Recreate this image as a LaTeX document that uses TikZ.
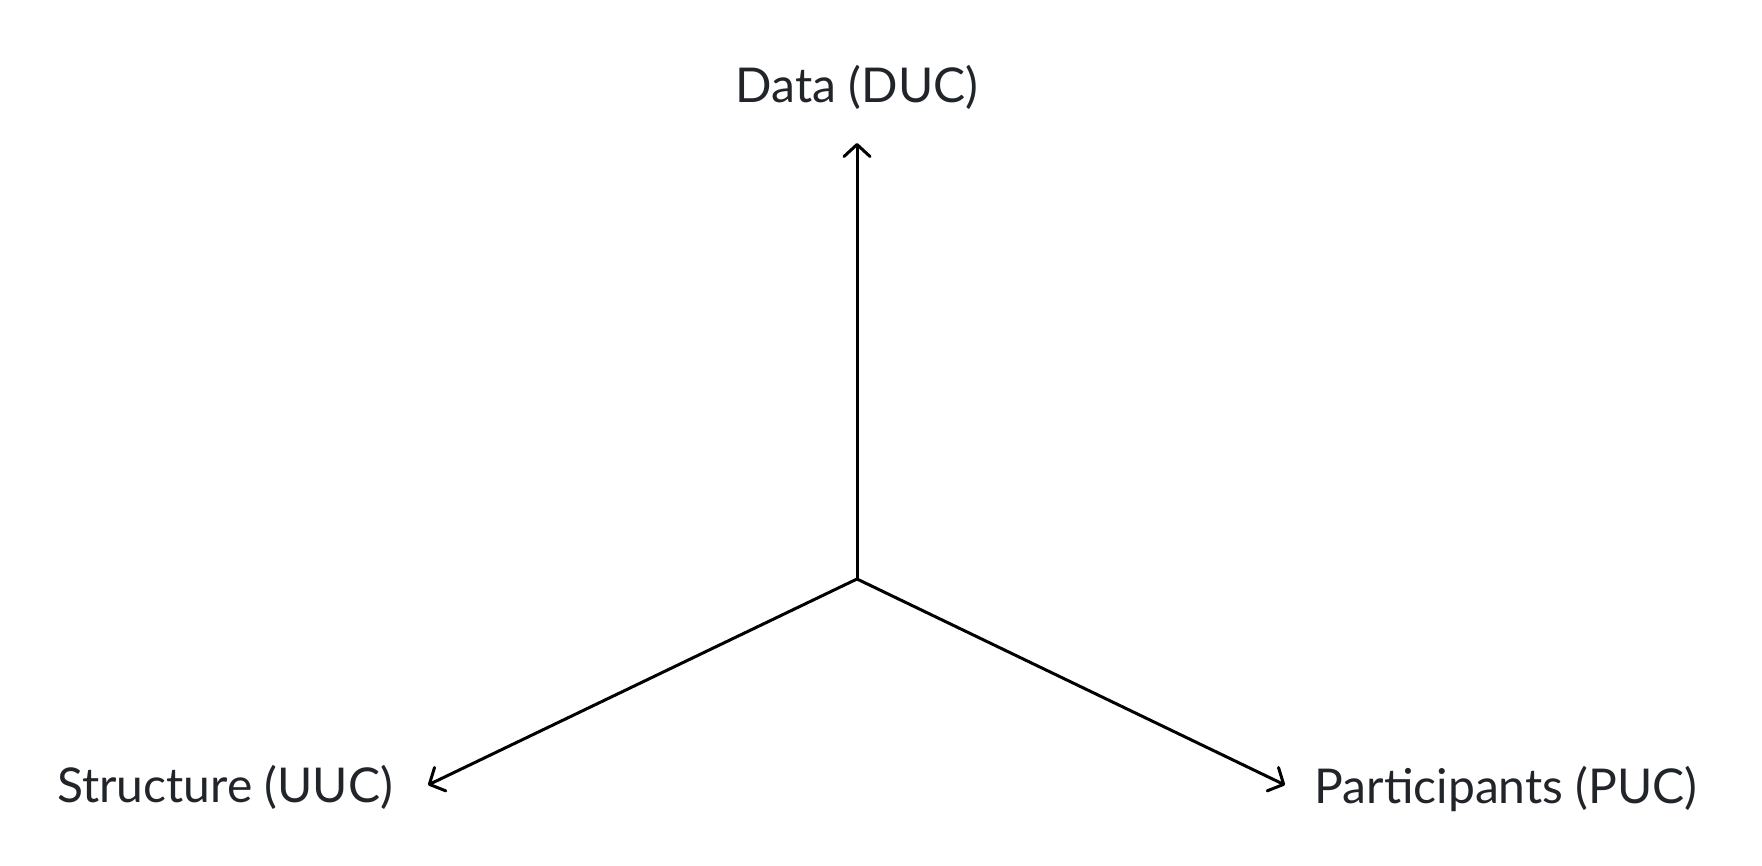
\documentclass[tikz,border=0pt]{standalone}
\usepackage{fontspec}
\setmainfont{Lato}
\usetikzlibrary{arrows.meta}
\definecolor{txtgray}{RGB}{33,37,41}
\begin{document}
\begin{tikzpicture}[x=0.5pt,y=-0.5pt,
  axis/.style={line width=1.5pt,line cap=round,-{Straight Barb[length=6pt,width=13pt,line cap=round,line join=round]}},
  lbl/.style={anchor=base,text=txtgray,font=\fontsize{24}{28}\selectfont,inner sep=0pt}]
\useasboundingbox (0,0) rectangle (1762,866);
\coordinate (o) at (857,579);
\coordinate (dtip) at (857,143);
\coordinate (stip) at (428,785);
\coordinate (ptip) at (1285,785);
\node[lbl] (data) at (857,103) {Data (DUC)};
\node[lbl] (struct) at (225,802) {Structure (UUC)};
\node[lbl] (part) at (1506,803) {Participants (PUC)};
\draw[axis] (o) -- (dtip);
\draw[axis] (o) -- (stip);
\draw[axis] (o) -- (ptip);
\end{tikzpicture}
\end{document}
